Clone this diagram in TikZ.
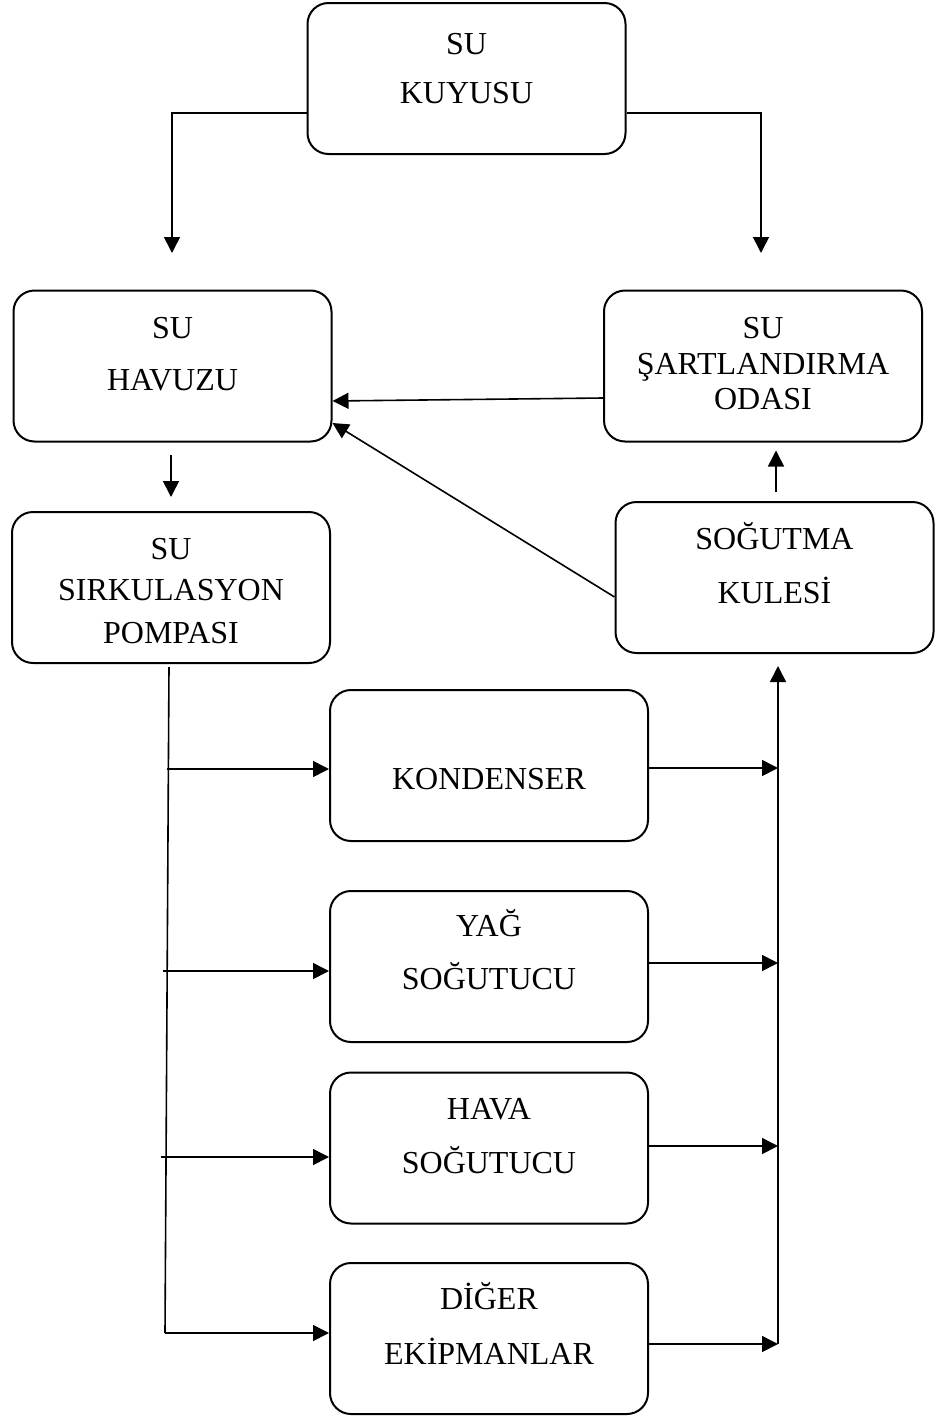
\documentclass[tikz,border=0pt]{standalone}
\usepackage{fontspec}
\setmainfont{Liberation Serif}
\usetikzlibrary{arrows.meta}
\tikzset{
  box/.style={draw, line width=2pt, rounded corners=21pt, minimum width=318pt, minimum height=151pt, inner sep=0pt},
  txt/.style={anchor=base, inner sep=0pt, font=\fontsize{32}{38}\selectfont},
  conn/.style={line width=1.6pt, -{Triangle[length=16pt, width=16pt]}},
  plain/.style={line width=1.6pt}
}
\begin{document}
\begin{tikzpicture}[x=1pt,y=-1pt]
\useasboundingbox (0,0) rectangle (942,1416);
% boxes
\node[box] (kuyu) at (466.5,78.5) {};
\node[box] (havuz) at (172.5,366) {};
\node[box] (sart) at (763,366) {};
\node[box] (pompa) at (171,587.5) {};
\node[box] (sogut) at (774.5,577.5) {};
\node[box] (kond) at (489,765.5) {};
\node[box] (yag) at (489,966.5) {};
\node[box] (hava) at (489,1148) {};
\node[box] (diger) at (489,1338.5) {};
% texts
\node[txt] (t1) at (466.5,54) {SU};
\node[txt] (t2) at (466.5,103) {KUYUSU};
\node[txt] (t3) at (172.5,338) {SU};
\node[txt] (t4) at (172.5,390) {HAVUZU};
\node[txt] (t5) at (763,338) {SU};
\node[txt] (t6) at (763,374) {ŞARTLANDIRMA};
\node[txt] (t7) at (763,409) {ODASI};
\node[txt] (t8) at (171,559) {SU};
\node[txt] (t9) at (171,600) {SIRKULASYON};
\node[txt] (t10) at (171,643) {POMPASI};
\node[txt] (t11) at (774.5,549) {SOĞUTMA};
\node[txt] (t12) at (774.5,603) {KULESİ};
\node[txt] (t13) at (489,789) {KONDENSER};
\node[txt] (t14) at (489,936) {YAĞ};
\node[txt] (t15) at (489,989) {SOĞUTUCU};
\node[txt] (t16) at (489,1119) {HAVA};
\node[txt] (t17) at (489,1173) {SOĞUTUCU};
\node[txt] (t18) at (489,1309) {DİĞER};
\node[txt] (t19) at (489,1364) {EKİPMANLAR};
% free ends
\coordinate (kl) at (172,253);
\coordinate (kr) at (761,253);
\coordinate (lb) at (165,1333);
\coordinate (l1) at (167,769);
\coordinate (l2) at (163,971);
\coordinate (l3) at (161,1157);
\coordinate (rb) at (778,1344);
\coordinate (r1) at (778,768);
\coordinate (r2) at (778,963);
\coordinate (r3) at (778,1146);
% connectors
\draw[conn] ([yshift=-34.5pt]kuyu.west) -| (kl);
\draw[conn] ([yshift=-34.5pt]kuyu.east) -| (kr);
\draw[conn] ([yshift=-32pt]sart.west) -- ([yshift=-35pt]havuz.east);
\draw[conn] ([yshift=-19.5pt]sogut.west) -- ([yshift=-57pt]havuz.east);
\draw[conn] ([xshift=-1.5pt,yshift=-12pt]havuz.south) -- ([yshift=14pt]pompa.north);
\draw[conn] ([xshift=1.5pt,yshift=9pt]sogut.north) -- ([xshift=13pt,yshift=-8pt]sart.south);
\draw[plain] ([xshift=-2pt,yshift=-3pt]pompa.south) -- (lb);
\draw[conn] (l1) -- ([yshift=-3.5pt]kond.west);
\draw[conn] (l2) -- ([yshift=-4.5pt]yag.west);
\draw[conn] (l3) -- ([yshift=-9pt]hava.west);
\draw[conn] (lb) -- ([yshift=5.5pt]diger.west);
\draw[conn] (rb) -- ([xshift=3.5pt,yshift=-12pt]sogut.south);
\draw[conn] ([yshift=-2.5pt]kond.east) -- (r1);
\draw[conn] ([yshift=3.5pt]yag.east) -- (r2);
\draw[conn] ([yshift=2pt]hava.east) -- (r3);
\draw[conn] ([yshift=-5.5pt]diger.east) -- (rb);
\end{tikzpicture}
\end{document}
